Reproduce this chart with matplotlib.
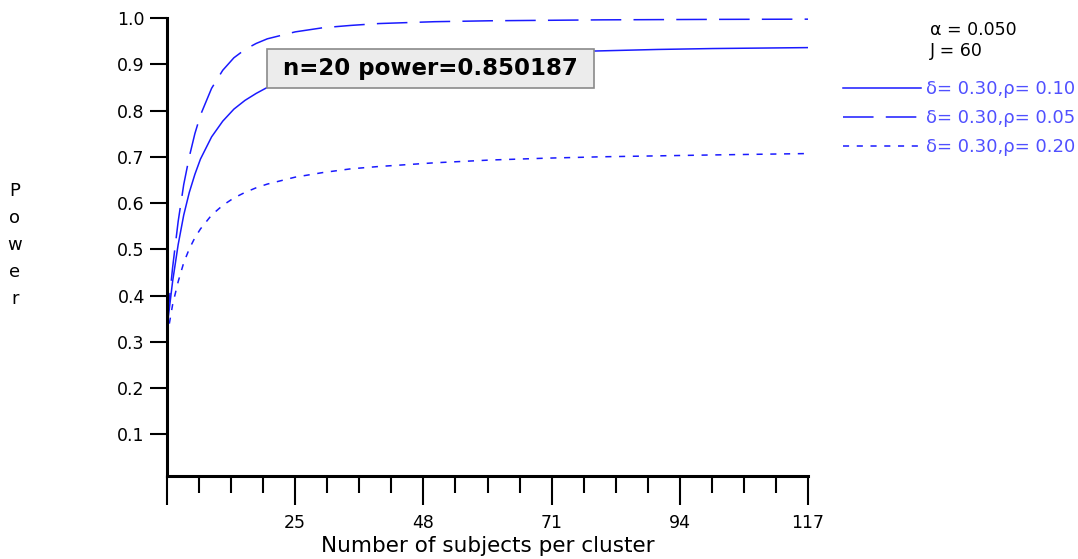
import matplotlib
matplotlib.use("Agg")
from matplotlib import pyplot as plt
from matplotlib.ticker import FixedLocator

plt.rcParams["font.family"] = ["DejaVu Sans"]

# subjects per cluster (n)
n_vals = [2, 3, 4, 5, 6, 7, 8, 10, 12, 14, 16, 18, 20, 25, 30, 35, 40, 50, 60, 70, 80, 90, 100, 117]

# power
power_rho10 = [0.33, 0.43, 0.51, 0.574, 0.623, 0.662, 0.695, 0.743, 0.777, 0.803, 0.822, 0.837, 0.850,
               0.872, 0.886, 0.896, 0.904, 0.915, 0.921, 0.926, 0.929, 0.932, 0.934, 0.936]
power_rho05 = [0.34, 0.46, 0.56, 0.64, 0.70, 0.75, 0.79, 0.848, 0.887, 0.914, 0.932, 0.945, 0.955,
               0.970, 0.979, 0.984, 0.988, 0.992, 0.994, 0.995, 0.996, 0.9965, 0.997, 0.9975]
power_rho20 = [0.31, 0.38, 0.43, 0.471, 0.501, 0.525, 0.544, 0.574, 0.595, 0.611, 0.623, 0.633, 0.641,
               0.656, 0.666, 0.674, 0.679, 0.687, 0.693, 0.697, 0.700, 0.702, 0.704, 0.707]

labels = ["\u03b4= 0.30,\u03c1= 0.10", "\u03b4= 0.30,\u03c1= 0.05", "\u03b4= 0.30,\u03c1= 0.20"]
x_major = [2, 25, 48, 71, 94, 117]
x_labels = ["", "25", "48", "71", "94", "117"]
y_ticks = [0.1, 0.2, 0.3, 0.4, 0.5, 0.6, 0.7, 0.8, 0.9, 1.0]

W, H = 1078, 559
fig = plt.figure(figsize=(W / 100, H / 100), dpi=100)
ax = fig.add_axes([167 / W, 1 - 476 / H, (808 - 167) / W, (476 - 18) / H])

line_color = "#1a1aff"
l1, = ax.plot(n_vals, power_rho10, color=line_color, lw=1.1, label=labels[0])
l2, = ax.plot(n_vals, power_rho05, color=line_color, lw=1.1, dashes=(20, 8), label=labels[1])
l3, = ax.plot(n_vals, power_rho20, color=line_color, lw=1.1, dashes=(4, 5), label=labels[2])

ax.set_xlim(2, 117)
ax.set_ylim(0.01, 1.0)

for s in ["top", "right"]:
    ax.spines[s].set_visible(False)
for s in ["left", "bottom"]:
    ax.spines[s].set_linewidth(2.2)

ax.set_yticks(y_ticks)
ax.set_yticklabels([f"{v:.1f}" for v in y_ticks])
ax.set_xticks(x_major)
ax.set_xticklabels(x_labels)
minor = []
for a, b in zip(x_major[:-1], x_major[1:]):
    step = (b - a) / 4
    minor += [a + step * k for k in (1, 2, 3)]
ax.xaxis.set_minor_locator(FixedLocator(minor))
ax.tick_params(axis="y", direction="out", length=12, width=1.5, labelsize=12.5, pad=4)
ax.tick_params(axis="x", which="major", direction="out", length=21, width=1.5, labelsize=12.5, pad=6)
ax.tick_params(axis="x", which="minor", direction="out", length=12, width=1.5)

ax.set_xlabel("Number of subjects per cluster", fontsize=15.5, labelpad=3)
fig.text(15 / W, 1 - 245 / H, "P\no\nw\ne\nr", ha="center", va="center", fontsize=13, linespacing=1.65)

ax.annotate(" n=20 power=0.850187 ", xy=(20, 0.85), xytext=(5.5, 5.5), textcoords="offset points",
            ha="left", va="bottom", fontsize=16.5, fontweight="bold",
            bbox=dict(boxstyle="square,pad=0.35", fc="#ececec", ec="#8a8a8a", lw=1.2))

fig.text(930 / W, 1 - 30 / H, "\u03b1 = 0.050", fontsize=12.5, va="center")
fig.text(930 / W, 1 - 51 / H, "J = 60", fontsize=12.5, va="center")

leg = fig.legend(handles=[l1, l2, l3], loc="upper left", bbox_to_anchor=(843 / W, 1 - 80 / H),
                 frameon=False, fontsize=13, handlelength=4.3, handletextpad=0.28,
                 labelspacing=0.62, labelcolor="#5050ff", borderaxespad=0, borderpad=0)

fig.savefig("out.png", dpi=100)
